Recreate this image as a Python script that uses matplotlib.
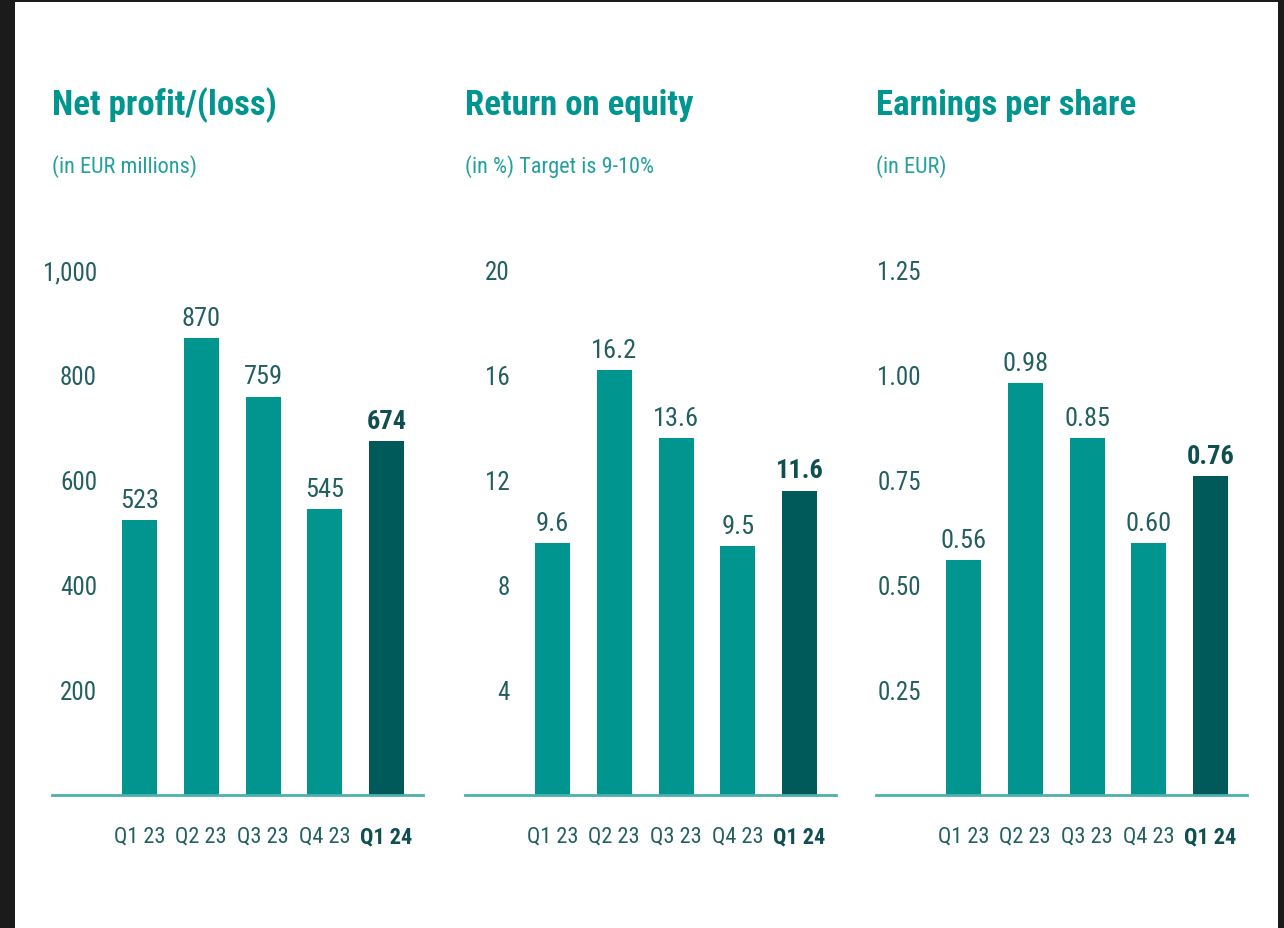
import matplotlib
matplotlib.use("Agg")
import matplotlib.pyplot as plt
from matplotlib.patches import Rectangle
from matplotlib.ticker import FixedLocator

plt.rcParams['font.family'] = ['Liberation Sans Narrow', 'Roboto Condensed', 'DejaVu Sans']

# ---------------- data ----------------
quarters = ["Q1 23", "Q2 23", "Q3 23", "Q4 23", "Q1 24"]

net_profit = [523, 870, 759, 545, 674]
net_profit_labels = ["523", "870", "759", "545", "674"]
net_profit_ticks = [200, 400, 600, 800, 1000]
net_profit_ticklabels = ["200", "400", "600", "800", "1,000"]

roe = [9.6, 16.2, 13.6, 9.5, 11.6]
roe_labels = ["9.6", "16.2", "13.6", "9.5", "11.6"]
roe_ticks = [4, 8, 12, 16, 20]
roe_ticklabels = ["4", "8", "12", "16", "20"]

eps = [0.56, 0.98, 0.85, 0.60, 0.76]
eps_labels = ["0.56", "0.98", "0.85", "0.60", "0.76"]
eps_ticks = [0.25, 0.50, 0.75, 1.00, 1.25]
eps_ticklabels = ["0.25", "0.50", "0.75", "1.00", "1.25"]

titles = ["Net profit/(loss)", "Return on equity", "Earnings per share"]
subtitles = ["(in EUR millions)", "(in %) Target is 9-10%", "(in EUR)"]

# ---------------- style ----------------
W, H = 1284, 929
TEAL = "#00968f"
DARK = "#005a5a"
TITLE_C = "#00968f"
SUB_C = "#22a19b"
TXT_C = "#235f61"
BOLD_C = "#0f4f51"
AXIS_C = "#4db0aa"
FRAME_C = "#1b1b1b"

fig = plt.figure(figsize=(W / 100, H / 100), dpi=100, facecolor="white")

def fx(px):
    return px / W

def fy(py):
    return 1 - py / H

panels = [
    (52, net_profit, net_profit_labels, (0, 1000), net_profit_ticks, net_profit_ticklabels),
    (465, roe, roe_labels, (0, 20), roe_ticks, roe_ticklabels),
    (876, eps, eps_labels, (0, 1.25), eps_ticks, eps_ticklabels),
]

ax_w, base_y, top_y = 371, 796, 271

for i, (left, vals, labs, ylim, ticks, ticklabels) in enumerate(panels):
    ax = fig.add_axes([fx(left), fy(base_y), ax_w / W, (base_y - top_y) / H])
    x = list(range(len(quarters)))
    colors = [TEAL] * (len(quarters) - 1) + [DARK]
    ax.bar(x, vals, width=0.567, color=colors, zorder=1)
    ax.set_xlim(-1.417, 4.59)
    ax.set_ylim(*ylim)
    for s in ["left", "right", "top"]:
        ax.spines[s].set_visible(False)
    ax.spines["bottom"].set_color(AXIS_C)
    ax.spines["bottom"].set_linewidth(2.0)

    ax.yaxis.set_major_locator(FixedLocator(ticks))
    ax.set_yticklabels(ticklabels)
    ax.tick_params(axis="y", length=0, pad=-32.4, labelsize=18, labelcolor=TXT_C)

    ax.set_xticks(x)
    ax.set_xticklabels(quarters)
    ax.tick_params(axis="x", length=0, pad=22, labelsize=16, labelcolor=TXT_C)
    last = ax.get_xticklabels()[-1]
    last.set_fontweight("bold")
    last.set_color(BOLD_C)

    for j, (v, t) in enumerate(zip(vals, labs)):
        is_last = j == len(vals) - 1
        ax.annotate(t, (j, v), xytext=(0, 9.4), textcoords="offset points",
                    ha="center", va="baseline", fontsize=19,
                    color=BOLD_C if is_last else TXT_C,
                    fontweight="bold" if is_last else "normal",
                    annotation_clip=False)

    fig.text(fx(left), fy(115), titles[i], ha="left", va="baseline",
             fontsize=25, fontweight="bold", color=TITLE_C)
    fig.text(fx(left), fy(173), subtitles[i], ha="left", va="baseline",
             fontsize=16, color=SUB_C)

# dark frame around the white page
for (x0, y0, w, h) in [(0, 0, 15, H), (0, 0, W, 3), (1278, 0, 6, H)]:
    fig.patches.append(Rectangle((fx(x0), fy(y0 + h)), w / W, h / H,
                                 transform=fig.transFigure, facecolor=FRAME_C,
                                 edgecolor="none", zorder=10))

fig.savefig("out.png", dpi=100, facecolor="white")
